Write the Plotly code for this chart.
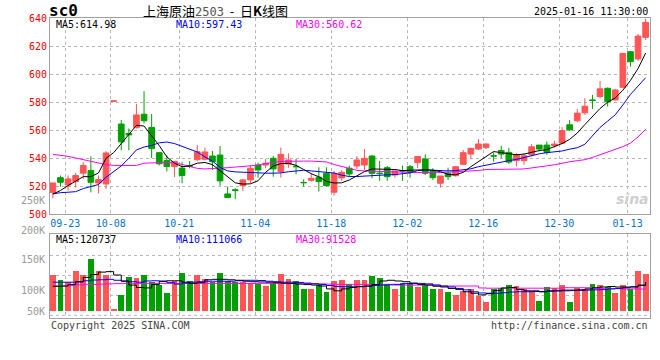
import pandas as pd
import plotly.graph_objects as go

# ---------------- data ----------------
holidays = pd.to_datetime(["2024-10-01", "2024-10-02", "2024-10-03", "2024-10-04",
                           "2024-10-07", "2025-01-01"])
dates = [d for d in pd.bdate_range("2024-09-19", "2025-01-15") if d not in holidays]
tick_labels = ["09-23", "10-08", "10-21", "11-04", "11-18", "12-02", "12-16", "12-30", "01-13"]

open_ = [515.7, 526.2, 521.0, 523.4, 529.4, 531.3, 522.4, 521.7, 580.7, 564.4,
         557.7, 561.8, 571.4, 562.0, 544.0, 538.5, 534.2, 533.0, 534.7, 539.0,
         539.3, 541.6, 542.3, 514.6, 517.6, 520.5, 524.6, 535.2, 535.2, 540.0,
         530.5, 535.9, 534.3, 522.8, 524.3, 526.5, 529.3, 515.8, 526.0, 532.9,
         534.5, 535.2, 541.6, 529.5, 533.3, 528.1, 531.2, 534.0, 536.9, 539.5,
         530.5, 522.2, 529.3, 527.6, 535.7, 543.0, 546.6, 547.6, 541.8, 545.6,
         544.2, 538.3, 538.3, 542.5, 549.4, 549.4, 549.0, 550.8, 563.9, 566.7,
         572.4, 581.6, 584.0, 589.9, 581.6, 590.6, 616.0, 610.8, 626.2]
high = [522.5, 527.7, 527.7, 529.6, 537.3, 541.4, 527.7, 545.0, 581.0, 567.3,
        561.3, 578.8, 587.8, 571.6, 544.5, 542.1, 537.8, 537.3, 538.0, 549.4,
        547.6, 545.2, 548.7, 519.8, 518.6, 525.3, 535.2, 536.9, 539.5, 541.6,
        547.6, 543.5, 539.5, 525.0, 529.3, 533.6, 533.6, 531.0, 531.5, 534.8,
        541.6, 546.6, 542.3, 538.1, 534.5, 531.0, 534.8, 535.2, 541.6, 542.8,
        532.9, 527.4, 533.3, 534.5, 545.9, 547.6, 553.7, 550.6, 544.2, 548.9,
        547.3, 543.7, 543.7, 550.1, 549.4, 552.0, 552.5, 562.2, 567.2, 575.2,
        582.8, 585.2, 595.1, 590.4, 589.5, 614.8, 616.0, 628.6, 639.5]
low = [511.5, 519.8, 516.9, 519.3, 525.3, 515.7, 515.0, 518.1, 580.6, 545.7,
       545.7, 561.3, 564.9, 540.2, 534.9, 530.6, 526.5, 522.2, 532.8, 538.0,
       538.5, 531.7, 520.5, 512.0, 510.8, 516.7, 522.2, 526.2, 532.9, 526.9,
       526.2, 533.3, 528.6, 519.8, 523.4, 516.3, 519.8, 513.4, 524.0, 526.9,
       532.4, 531.7, 525.8, 523.9, 523.9, 526.2, 523.9, 526.2, 532.9, 528.1,
       524.6, 519.1, 524.6, 526.9, 535.2, 539.5, 545.9, 546.6, 537.6, 540.2,
       536.1, 534.2, 535.4, 541.3, 544.9, 542.5, 547.7, 550.1, 559.6, 565.8,
       571.0, 575.2, 582.8, 576.9, 581.2, 589.9, 605.3, 609.4, 624.3]
close = [522.4, 522.9, 525.3, 527.7, 534.9, 522.9, 524.8, 543.8, 580.9, 551.7,
         556.7, 570.9, 566.8, 546.9, 536.1, 534.2, 537.8, 527.7, 534.4, 544.7,
         544.5, 537.6, 523.9, 512.0, 517.0, 524.6, 532.9, 531.7, 536.4, 532.4,
         542.8, 538.8, 534.0, 522.6, 525.7, 523.4, 520.5, 529.3, 530.0, 528.8,
         538.8, 540.0, 529.3, 529.1, 526.9, 531.0, 530.9, 530.0, 541.2, 529.3,
         526.2, 527.4, 526.9, 534.0, 544.0, 547.1, 550.2, 550.2, 541.6, 543.0,
         537.3, 542.5, 541.8, 548.2, 546.6, 544.2, 550.1, 559.8, 560.3, 572.2,
         577.1, 581.2, 589.5, 580.4, 588.7, 614.8, 608.9, 627.1, 636.9]

ma5 = [514.5, 517.0, 520.5, 523.5, 526.9, 526.9, 529.5, 540.0, 544.0, 550.5,
       557.0, 563.5, 563.0, 556.0, 549.0, 541.0, 536.5, 534.0, 534.5, 536.5,
       537.0, 535.5, 531.0, 527.0, 522.5, 521.6, 521.8, 524.0, 530.0, 534.5,
       536.2, 536.4, 535.0, 532.0, 529.0, 526.8, 523.5, 522.4, 522.5, 524.5,
       527.5, 530.5, 532.4, 532.4, 532.4, 532.0, 531.2, 531.7, 531.7, 531.7,
       531.5, 530.5, 528.5, 528.2, 530.0, 534.0, 537.6, 541.5, 544.8, 544.0,
       543.2, 542.5, 543.0, 544.5, 545.5, 546.2, 548.3, 550.5, 553.5, 558.0,
       564.0, 569.5, 575.5, 580.0, 583.0, 588.5, 595.5, 604.0, 615.0]
ma10 = [514.6, 515.5, 515.8, 516.2, 518.4, 519.8, 521.3, 526.5, 530.8, 534.5,
        540.0, 546.0, 548.0, 549.2, 551.0, 551.6, 550.5, 548.5, 546.5, 544.5,
        541.0, 538.0, 533.5, 531.0, 530.3, 530.0, 529.8, 529.6, 529.4, 529.4,
        529.6, 530.4, 531.2, 531.5, 531.0, 530.6, 530.2, 529.5, 528.0, 527.0,
        527.0, 527.4, 527.6, 528.0, 528.2, 528.4, 529.0, 529.6, 531.2, 531.7,
        531.5, 531.0, 531.0, 531.2, 531.8, 532.5, 534.0, 535.2, 536.3, 537.2,
        538.3, 539.2, 540.5, 542.0, 543.2, 544.0, 544.4, 545.2, 546.5, 547.5,
        550.0, 556.0, 562.0, 566.5, 571.0, 578.0, 585.5, 591.5, 597.4]
ma30 = [542.8, 542.2, 541.4, 540.2, 539.0, 537.6, 536.3, 535.5, 534.9, 534.8,
        534.8, 534.9, 536.5, 536.9, 536.9, 536.9, 536.7, 535.6, 534.0, 532.8,
        532.4, 532.5, 533.0, 533.3, 533.6, 534.2, 534.6, 535.2, 536.4, 537.2,
        537.8, 538.0, 538.0, 538.0, 538.0, 537.8, 537.4, 535.6, 534.2, 532.5,
        531.4, 531.0, 530.8, 530.6, 530.3, 530.0, 529.9, 529.8, 529.8, 529.8,
        529.8, 529.9, 530.1, 530.4, 530.6, 530.8, 531.3, 532.0, 532.2, 532.3,
        532.3, 532.3, 532.4, 533.0, 533.8, 534.6, 535.4, 536.6, 537.5, 538.3,
        539.0, 540.6, 542.4, 544.3, 546.2, 548.3, 550.8, 555.2, 560.6]

volume = [149, 130, 121, 168, 151, 218, 168, 151, 10, 68,
          143, 138, 151, 121, 107, 76, 125, 160, 125, 149,
          132, 121, 160, 125, 121, 121, 118, 114, 103, 118,
          155, 135, 125, 93, 93, 107, 79, 125, 130, 114,
          128, 128, 146, 138, 114, 90, 118, 118, 100, 110,
          90, 90, 79, 68, 82, 90, 63, 38, 90, 96,
          110, 104, 90, 82, 42, 100, 96, 110, 38, 96,
          90, 113, 110, 100, 75, 110, 90, 167, 154]
vol_ma5 = [103, 104, 110, 122, 140, 152, 162, 164, 150, 125,
           108, 98, 96, 110, 124, 126, 126, 120, 115, 118,
           130, 132, 132, 130, 128, 124, 122, 121, 120, 118,
           116, 115, 112, 110, 108, 104, 92, 84, 92, 98,
           102, 104, 110, 125, 128, 125, 122, 116, 110, 108,
           103, 100, 94, 90, 80, 74, 67, 72, 85, 96,
           98, 90, 84, 84, 80, 84, 86, 87, 87, 88,
           92, 97, 100, 102, 100, 100, 100, 108, 120.7]
vol_ma10 = [120, 120, 120, 121, 126, 129, 130, 132, 128, 124,
            122, 120, 125, 126, 124, 118, 112, 116, 120, 122,
            124, 124, 124, 124, 126, 128, 128, 127, 124, 122,
            120, 120, 119, 116, 113, 110, 106, 102, 101, 101,
            101, 103, 106, 108, 109, 111, 114, 115, 115, 113,
            108, 104, 100, 94, 88, 80, 75, 74, 74, 76,
            79, 80, 80, 81, 81, 82, 83, 84, 85, 86,
            87, 88, 89, 92, 94, 97, 101, 106, 111.1]
vol_ma30 = [104, 104, 106, 109, 111, 111, 112, 113, 114, 115,
            115, 115, 115, 115, 115, 115, 115, 115, 115, 115,
            115, 115, 115, 115, 115, 115, 115, 115, 115, 115,
            115, 115, 115, 115, 114, 113, 112, 111, 111, 111,
            111, 111, 111, 111, 111, 108, 108, 108, 108, 108,
            108, 104, 104, 104, 104, 104, 96, 95, 95, 95,
            95, 95, 95, 95, 95, 95, 95, 97, 97, 97,
            97, 93, 93, 93, 93, 92, 92, 91.5, 91.5]

# ---------------- styling ----------------
RED = "#ff5555"
GREEN = "#00a000"
MONO = "DejaVu Sans Mono"
GRID = "#b8b8b8"
BORDER = "#a0a0a0"

n = len(close)
x = list(range(n))
date_str = [d.strftime("%m-%d") for d in dates]
tick_idx = [date_str.index(t) for t in tick_labels]
tickvals = [i - 0.375 for i in tick_idx]
xrange_ = [-0.375, -0.375 + 600 / 7.6]
vol_k = [v * 1000 for v in volume]
vol_colors = [RED if c >= o else GREEN for o, c in zip(open_, close)]

fig = go.Figure()
fig.add_trace(go.Candlestick(
    x=x, open=open_, high=high, low=low, close=close,
    increasing=dict(line=dict(color=RED, width=1), fillcolor=RED),
    decreasing=dict(line=dict(color=GREEN, width=1), fillcolor=GREEN),
    whiskerwidth=0, xaxis="x", yaxis="y", showlegend=False, hoverinfo="skip"))
for ys, col in [(ma30, "#ff00ff"), (ma10, "#0000ff"), (ma5, "#000000")]:
    fig.add_trace(go.Scatter(x=x, y=ys, mode="lines", line=dict(color=col, width=1),
                             xaxis="x", yaxis="y", showlegend=False, hoverinfo="skip"))

fig.add_trace(go.Bar(x=x, y=vol_k, marker=dict(color=vol_colors, line=dict(width=0)),
                     width=0.75, xaxis="x2", yaxis="y2", showlegend=False, hoverinfo="skip"))
for ys, col in [(vol_ma30, "#ff00ff"), (vol_ma10, "#0000ff"), (vol_ma5, "#000000")]:
    fig.add_trace(go.Scatter(x=x, y=[v * 1000 for v in ys], mode="lines",
                             line=dict(color=col, width=1, shape="hv"),
                             xaxis="x2", yaxis="y2", showlegend=False, hoverinfo="skip"))

axis_common = dict(showline=True, mirror=True, linecolor=BORDER, linewidth=1,
                   zeroline=False, ticks="")

def py(Y):
    return (318 - Y) / 300.0

def px(X):
    return (X - 50) / 600.0

fig.update_layout(
    width=660, height=360,
    margin=dict(l=50, r=10, t=18, b=42),
    paper_bgcolor="white", plot_bgcolor="white",
    boxgap=0.25, boxgroupgap=0,
    xaxis=dict(domain=[0, 1], anchor="y", range=xrange_, tickvals=tickvals,
               ticktext=tick_labels, tickfont=dict(family=MONO, size=10, color="#0a74c8"),
               showgrid=True, gridcolor=GRID, griddash="dot", gridwidth=1,
               rangeslider=dict(visible=False), **axis_common),
    yaxis=dict(domain=[py(214.4), 1], anchor="x", range=[500, 640],
               tickvals=list(range(500, 641, 20)),
               tickfont=dict(family=MONO, size=10, color="#ff0000"),
               showgrid=True, gridcolor=GRID, griddash="dot", gridwidth=1,
               **axis_common),
    xaxis2=dict(domain=[0, 1], anchor="y2", range=xrange_, tickvals=tickvals,
                showticklabels=False, showgrid=True, gridcolor=GRID, griddash="dot",
                gridwidth=1, **axis_common),
    yaxis2=dict(domain=[0, py(234)], anchor="x2", range=[-29200, 320800],
                showticklabels=False, showgrid=False, **axis_common),
    bargap=0,
)

shapes = []
for Y in [255.5, 275.5, 295.5, 315.3]:
    shapes.append(dict(type="line", xref="paper", yref="paper", x0=0, x1=1,
                       y0=py(Y), y1=py(Y), line=dict(color=GRID, width=1, dash="dot"),
                       layer="below"))
fig.update_layout(shapes=shapes)

ann = []
def add(text, X, Y, xanchor="left", color="#000", size=10, family=MONO, **kw):
    ann.append(dict(text=text, x=px(X), y=py(Y), xref="paper", yref="paper",
                    xanchor=xanchor, yanchor="middle", showarrow=False,
                    font=dict(family=family, size=size, color=color), **kw))

add("<b>sc0</b>", 47, 11, size=16)
add("上海原油<span style='font-family:DejaVu Sans Mono;font-size:12px;color:#555'>2503</span>"
    "  -  日<b>K</b>线图", 141, 10, size=13, family="Noto Sans CJK SC")
add("2025-01-16 11:30:00", 650, 12, xanchor="right")
add("MA5:614.98", 54, 24)
add("MA10:597.43", 174, 24, color="#0000ff")
add("MA30:560.62", 294, 24, color="#ff00ff")
add("MA5:120737", 54, 239)
add("MA10:111066", 174, 239, color="#0000ff")
add("MA30:91528", 294, 239, color="#ff00ff")
for lab, Y in [("250K", 200), ("200K", 230), ("150K", 259.3), ("100K", 290.7), ("50K", 311)]:
    add(lab, 46.5, Y, xanchor="right", color="#9a9a9a")
add("Copyright 2025 SINA.COM", 49, 325, color="#444")
add("http://finance.sina.com.cn", 650, 325, xanchor="right", color="#444")
add("<b><i>sina</i></b>", 632, 199, xanchor="center", color="#cfcfcf", size=14,
    family="DejaVu Sans")
fig.update_layout(annotations=ann)

# the page's default 8px body margin would push the 660x360 figure out of the window
fig.write_html("out.html",
               config={"staticPlot": True, "displayModeBar": False},
               post_script="document.body.style.margin='0px';"
                           "document.documentElement.style.overflow='hidden';")
